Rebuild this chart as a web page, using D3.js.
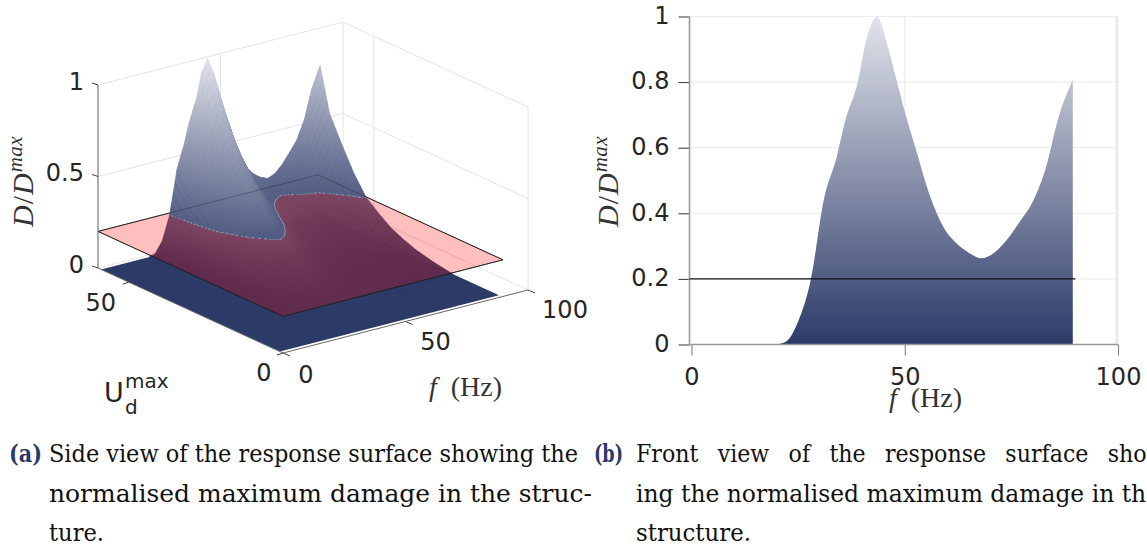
<!DOCTYPE html>
<html><head><meta charset="utf-8">
<script src="https://cdn.jsdelivr.net/npm/d3@7/dist/d3.min.js"></script>
<style>
html,body{margin:0;padding:0;background:#fff;overflow:hidden}
svg{display:block}
text{fill:#262626}
.tick-label{font-family:"DejaVu Sans";font-size:24px}
.math{font-family:"Liberation Serif";fill:#333}
.cap{font-family:"DejaVu Serif Condensed","DejaVu Serif";font-size:24px;font-stretch:condensed;fill:#111}
.capb{font-family:"DejaVu Serif Condensed","DejaVu Serif";font-size:24px;font-stretch:condensed;font-weight:bold;fill:#2a3a6b}
</style></head><body><svg id="c" width="1147" height="544"></svg>
<script>
const fGrid=[0,10,19,22,25,28,31,34,36,39,41,43.5,46,48,50,52.5,56,59,62,65,68,71,74,77,80,83,86,89.4];
const uGrid=[59,56,52,48,44,40,36,32,28,22,16,8,1];
const d0 =[0,0,0,.008,.07,.2,.44,.57,.68,.8,.93,1,.91,.81,.71,.6,.45,.36,.31,.28,.263,.28,.32,.375,.435,.535,.69,.807];
const d56=[0,0,0,.006,.056,.16,.352,.456,.544,.64,.744,.8,.728,.648,.568,.48,.36,.288,.248,.224,.21,.22,.245,.28,.31,.385,.49,.57];
const d52=[0,0,0,.005,.045,.128,.282,.365,.435,.512,.595,.64,.582,.518,.454,.384,.288,.23,.198,.179,.168,.17,.18,.19,.205,.25,.33,.43];
const d48=[0,0,0,.004,.036,.102,.224,.291,.347,.408,.474,.51,.464,.413,.362,.306,.23,.184,.158,.143,.134,.13,.135,.14,.145,.17,.22,.3];
const d44=[0,0,0,.003,.027,.078,.172,.222,.265,.312,.363,.39,.355,.316,.277,.234,.176,.14,.121,.109,.103,.1,.1,.1,.103,.115,.15,.2];
const d40=[0,0,0,.002,.021,.06,.132,.171,.204,.24,.279,.3,.273,.243,.213,.18,.135,.108,.093,.084,.079,.075,.075,.073,.075,.082,.105,.145];
const d36=[0,0,0,.002,.015,.043,.095,.123,.146,.172,.2,.215,.196,.174,.153,.129,.097,.077,.067,.06,.057,.054,.052,.05,.05,.055,.07,.097];
const d32=[0,0,0,.001,.01,.028,.062,.08,.095,.112,.13,.14,.127,.113,.099,.084,.063,.05,.043,.039,.037,.035,.034,.032,.032,.035,.045,.065];
const d28=[0,0,0,.001,.006,.018,.04,.051,.061,.072,.084,.09,.082,.073,.064,.054,.04,.032,.028,.025,.024,.023,.022,.02,.02,.022,.027,.04];
const d22=[0,0,0,0,.003,.008,.018,.023,.027,.032,.037,.04,.036,.032,.028,.024,.018,.014,.012,.011,.011,.01,.01,.009,.008,.01,.012,.016];
const d16=[0,0,0,0,.001,.003,.007,.009,.01,.012,.014,.015,.014,.012,.011,.009,.007,.005,.005,.004,.004,.004,.003,.003,.002,.002,.001,0];
const d8 =[0,0,0,0,0,0,0,0,0,0,0,0,0,0,0,0,0,0,0,0,0,0,0,0,0,0,0,0];
const d1 =[0,0,0,0,0,0,0,0,0,0,0,0,0,0,0,0,0,0,0,0,0,0,0,0,0,0,0,0];
const damage=[d0,d56,d52,d48,d44,d40,d36,d32,d28,d22,d16,d8,d1];
const threshold=0.2;
const frontYTicks=[0,.2,.4,.6,.8,1], frontXTicks=[0,50,100];
const sideZTicks=[0,.5,1], sideFTicks=[0,50,100], sideUTicks=[0,50];

const svg=d3.select("#c");
const colour=d3.scaleLinear().domain([0,1]).range(["#2c3a68","#e2e4eb"]);

// ---------- Panel (b): front view
const x=d3.scaleLinear().domain([0,100]).range([691.5,1118]);
const y=d3.scaleLinear().domain([0,1]).range([344.5,16.5]);
const defs=svg.append("defs");
const grad=defs.append("linearGradient").attr("id","g").attr("gradientUnits","userSpaceOnUse")
  .attr("x1",0).attr("x2",0).attr("y1",y(0)).attr("y2",y(1));
grad.append("stop").attr("offset",0).attr("stop-color",colour(0));
grad.append("stop").attr("offset",1).attr("stop-color",colour(1));
const R=svg.append("g");
R.selectAll(".gy").data(frontYTicks).join("line").attr("x1",689.5).attr("x2",x(100))
  .attr("y1",d=>y(d)).attr("y2",d=>y(d)).attr("stroke","#eeeeee").attr("stroke-width",1.2);
R.selectAll(".gx").data([50]).join("line").attr("x1",d=>x(d)).attr("x2",d=>x(d))
  .attr("y1",y(1)).attr("y2",y(0)).attr("stroke","#eeeeee").attr("stroke-width",1.2);
R.append("line").attr("x1",x(100)-1).attr("x2",x(100)-1).attr("y1",y(1)).attr("y2",y(0)).attr("stroke","#e8e8e8").attr("stroke-width",2.5);
R.append("path").datum(fGrid.map((f,i)=>[f,d0[i]]))
  .attr("d",d3.area().curve(d3.curveMonotoneX).x(d=>x(d[0])).y0(y(0)).y1(d=>y(d[1]))).attr("fill","url(#g)");
const ax=R.append("g").attr("transform","translate(0,344.5)")
  .call(d3.axisBottom(x).tickValues(frontXTicks).tickSize(11).tickPadding(12).tickFormat(d=>d));
ax.select(".domain").remove();
ax.selectAll("line").attr("stroke","#777");
ax.selectAll("text").attr("class","tick-label").attr("fill","#262626");
R.append("line").attr("x1",689.5).attr("x2",x(100)).attr("y1",y(0)).attr("y2",y(0)).attr("stroke","#999").attr("stroke-width",1.4);
const ay=R.append("g").attr("transform","translate(689.5,0)")
  .call(d3.axisLeft(y).tickValues(frontYTicks).tickSize(11).tickPadding(9).tickFormat(d=>d));
ay.select(".domain").remove();
ay.selectAll("line").attr("stroke","#333");
ay.selectAll("text").attr("class","tick-label").attr("fill","#262626").attr("dy","0.28em");
R.append("line").attr("x1",689.5).attr("x2",689.5).attr("y1",y(1)).attr("y2",y(0)).attr("stroke","#999").attr("stroke-width",1.6);
R.append("line").attr("x1",x(0)-2).attr("x2",x(90)).attr("y1",y(threshold)).attr("y2",y(threshold)).attr("stroke","#111").attr("stroke-width",1.4);

function mathF(px,py){
  const t=svg.append("text").attr("class","math").attr("x",px).attr("y",py).attr("font-size",28);
  t.append("tspan").attr("font-style","italic").text("f");
  t.append("tspan").attr("dx",14).text("(Hz)");
}
function mathD(px,py){
  const t=svg.append("text").attr("class","math").attr("transform",`translate(${px},${py}) rotate(-90)`).attr("font-size",30);
  t.append("tspan").attr("font-style","italic").text("D");
  t.append("tspan").attr("dx",1).text("/");
  t.append("tspan").attr("font-style","italic").attr("dx",1).text("D");
  t.append("tspan").attr("font-style","italic").attr("font-size",21).attr("dy",-11).attr("dx",1).attr("letter-spacing",0.5).text("max");
}
mathF(889,407);
mathD(618,227);

// ---------- Panel (a): side view (orthographic)
const fx=d3.scaleLinear().domain([0,100]).range([0,245]);
const fy=d3.scaleLinear().domain([0,100]).range([0,-63]);
const ux=d3.scaleLinear().domain([0,60]).range([0,-185]);
const uy=d3.scaleLinear().domain([0,60]).range([0,-85]);
const zy=d3.scaleLinear().domain([0,1]).range([0,-183]);
const P=(f,u,z)=>[283+fx(f)+ux(u),353+fy(f)+uy(u)+zy(z)];
const line=d3.line();
const L=svg.append("g");
const seg=(a,b,c,w,g=L)=>g.append("path").attr("d",line([a,b])).attr("stroke",c).attr("stroke-width",w||1).attr("fill","none");
const gc="#e4e4e4";
[0,.5,1].forEach(z=>{seg(P(0,60,z),P(100,60,z),gc);seg(P(100,60,z),P(100,0,z),gc);});
seg(P(100,60,0),P(100,60,1),gc);seg(P(100,0,0),P(100,0,1),gc);
seg(P(50,60,0),P(50,60,1),gc);seg(P(100,50,0),P(100,50,1),gc);
seg(P(50,0,0),P(50,60,0),gc);seg(P(0,50,0),P(100,50,0),gc);

function clip(poly,above){
  const out=[],cross=[];
  poly.forEach((a,i)=>{
    const b=poly[(i+1)%poly.length];
    const ia=above?a[2]>=threshold:a[2]<=threshold, ib=above?b[2]>=threshold:b[2]<=threshold;
    if(ia)out.push(a);
    if(ia!==ib){const t=(threshold-a[2])/(b[2]-a[2]);
      const p=[a[0]+t*(b[0]-a[0]),a[1]+t*(b[1]-a[1]),threshold];out.push(p);cross.push(p);}
  });
  return {out,cross};
}
// each mesh cell is drawn in a few shaded pieces so the colour runs smoothly
const toPath=q=>line(q.map(p=>P(p[0],p[1],p[2])))+"Z";
const avg=q=>d3.mean(q,p=>p[2]);
const lower=L.append("g"), plane=L.append("g"), upper=L.append("g"), over=L.append("g");
const floorCorners=[[0,1],[89.4,1],[89.4,59],[0,59]];
lower.append("path").attr("d",line(floorCorners.map(d=>P(d[0],d[1],0)))+"Z").attr("fill",colour(0));
const contourSegs=[];
function cell(q){
  const lo=clip(q,false).out, hi=clip(q,true);
  if(lo.length>2&&avg(lo)>.002){const col=colour(avg(lo));lower.append("path").attr("d",toPath(lo)).attr("fill",col).attr("stroke",col).attr("stroke-width",.7);}
  if(hi.out.length>2){const col=colour(avg(hi.out));upper.append("path").attr("d",toPath(hi.out)).attr("fill",col).attr("stroke",col).attr("stroke-width",.7);
    if(hi.cross.length===2)contourSegs.push(hi.cross);}
}
const N=4;
for(let r=0;r<uGrid.length-1;r++)for(let c=fGrid.length-2;c>=0;c--){
  const A=[fGrid[c],uGrid[r],damage[r][c]],B=[fGrid[c+1],uGrid[r],damage[r][c+1]],
        C=[fGrid[c+1],uGrid[r+1],damage[r+1][c+1]],D=[fGrid[c],uGrid[r+1],damage[r+1][c]];
  const bi=(s,t)=>[0,1,2].map(k=>(1-t)*((1-s)*A[k]+s*B[k])+t*((1-s)*D[k]+s*C[k]));
  if(Math.max(A[2],B[2],C[2],D[2])===0)continue;
  for(let i=0;i<N;i++)for(let j=N-1;j>=0;j--){
    cell([bi(j/N,i/N),bi((j+1)/N,i/N),bi((j+1)/N,(i+1)/N),bi(j/N,(i+1)/N)]);
  }
}
const corners=[[0,0],[89.8,0],[89.8,60],[0,60]].map(d=>P(d[0],d[1],threshold));
plane.append("path").attr("d",line(corners)+"Z").attr("fill","#ff0000").attr("fill-opacity",.25);
plane.append("path").attr("d",line(corners)+"Z").attr("fill","none").attr("stroke","#222").attr("stroke-width",1);
over.append("path").attr("d",line(corners)+"Z").attr("fill","none").attr("stroke","#222").attr("stroke-opacity",.35).attr("stroke-width",1);
contourSegs.forEach(s=>over.append("path").attr("d",line(s.map(p=>P(p[0],p[1],p[2])))).attr("stroke","#fff").attr("stroke-opacity",.55).attr("stroke-width",.8).attr("stroke-dasharray","1 2").attr("fill","none"));

// axes
const ac="#666";
seg(P(0,60,0),P(0,60,1),"#777",1.2);
seg(P(0,60,0),P(0,0,0),ac,1);
seg(P(0,0,0),P(100,0,0),ac,1);
sideZTicks.forEach(z=>{const a=P(0,60,z);seg(a,[a[0]-6,a[1]-2],"#444",1);});
sideUTicks.forEach(u=>{const a=P(0,u,0);seg(a,[a[0]-6,a[1]+2],"#444",1);});
sideFTicks.forEach(f=>{const a=P(f,0,0);seg(a,[a[0]+7,a[1]+3],"#444",1);});
const lab=(t,px,py,anchor)=>svg.append("text").attr("class","tick-label").attr("x",px).attr("y",py).attr("dy","0.36em").attr("text-anchor",anchor||"middle").text(t);
sideZTicks.forEach((z,i)=>{const a=P(0,60,z);lab(z,84,a[1]-4,"end");});
sideUTicks.forEach(u=>{const a=P(0,u,0);lab(u,a[0]+(u?-28:-19),a[1]+(u?20:19));});
sideFTicks.forEach(f=>{const a=P(f,0,0);lab(f,a[0]+(f==100?37:f==50?30:23),a[1]+(f==100?19:f==50?20:21));});
mathF(429,396);
mathD(33,227);
const um=svg.append("text").attr("class","tick-label");
um.append("tspan").attr("x",104).attr("y",402).attr("font-size",27).text("U");
um.append("tspan").attr("x",125).attr("y",388).attr("font-size",20).text("max");
um.append("tspan").attr("x",125).attr("y",414).attr("font-size",20).text("d");

// ---------- Captions
const cap=(t,px,py,len,cls,ws)=>{const e=svg.append("text").attr("class",cls||"cap").attr("x",px).attr("y",py).text(t);
  if(ws)e.attr("word-spacing",ws);
  if(len)e.attr("textLength",len).attr("lengthAdjust","spacingAndGlyphs");
  return e;};
cap("(a)",9,462,33,"capb");
cap("Side view of the response surface showing the",49,462,529);
cap("normalised maximum damage in the struc-",49,502,543);
cap("ture.",49,541,55);
cap("(b)",594,462,29,"capb");
cap("Front view of the response surface show-",636,462,537,null,12);
cap("ing the normalised maximum damage in the",636,502,524);
cap("structure.",636,541,115);
</script></body></html>
